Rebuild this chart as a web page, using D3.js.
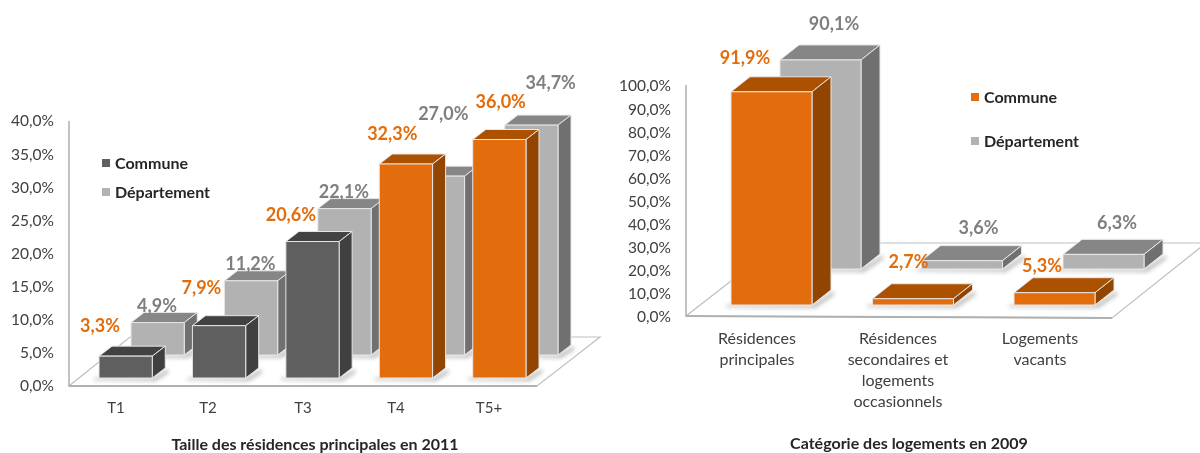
<!DOCTYPE html>
<html><head><meta charset="utf-8">
<script src="https://cdn.jsdelivr.net/npm/d3@7/dist/d3.min.js"></script>
<style>html,body{margin:0;padding:0;background:#fff}svg{display:block}text{font-family:Lato,"Open Sans",sans-serif}</style>
</head><body><svg id="c" width="1200" height="453"></svg>
<script>
const sizeCategories = ["T1","T2","T3","T4","T5+"];
const sizeCommune = [3.3,7.9,20.6,32.3,36.0];
const sizeDepartement = [4.9,11.2,22.1,27.0,34.7];
const sizeTicks = [0,5,10,15,20,25,30,35,40];
const sizeTitle = "Taille des résidences principales en 2011";
const typeCategories = [["Résidences","principales"],["Résidences","secondaires et","logements","occasionnels"],["Logements","vacants"]];
const typeCommune = [91.9,2.7,5.3];
const typeDepartement = [90.1,3.6,6.3];
const typeTicks = [0,10,20,30,40,50,60,70,80,90,100];
const typeTitle = "Catégorie des logements en 2009";
const seriesNames = ["Commune","Département"];

const pal = {
  dark:{f:"#5f5f5f",t:"#424242",s:"#404040"},
  grey:{f:"#b2b2b2",t:"#868686",s:"#707070"},
  orange:{f:"#e36c0a",t:"#ac5104",s:"#914504"}
};
const svg = d3.select("#c");
const defs = svg.append("defs");
defs.append("filter").attr("id","sh").attr("x","-30%").attr("y","-100%").attr("width","160%").attr("height","300%")
  .append("feGaussianBlur").attr("stdDeviation",2.2);
defs.append("filter").attr("id","soft").attr("x","-5%").attr("y","-5%").attr("width","110%").attr("height","110%")
  .append("feGaussianBlur").attr("stdDeviation",0.45);
const root = svg.append("g").attr("filter","url(#soft)");
const fmt = v => d3.format(".1f")(v).replace(".",",")+"%";

function bar(g,x,w,yTop,yBase,dx,dy,c){
  g.append("path").attr("d",`M${x-5},${yBase}L${x+w},${yBase}L${x+w+dx+3},${yBase+dy+1}L${x+w+dx+3},${yBase+dy+5}L${x+w+3},${yBase+3}L${x-5},${yBase+2}Z`)
    .attr("fill","#8a8a8a").attr("opacity",.6).attr("filter","url(#sh)");
  const add = (d,fill)=>g.append("path").attr("d",d).attr("fill",fill)
    .attr("stroke","#e6e6e6").attr("stroke-width",1).attr("stroke-linejoin","round");
  add(`M${x},${yTop}L${x+dx},${yTop+dy}L${x+w+dx},${yTop+dy}L${x+w},${yTop}Z`,c.t);
  add(`M${x+w},${yTop}L${x+w+dx},${yTop+dy}L${x+w+dx},${yBase+dy}L${x+w},${yBase}Z`,c.s);
  add(`M${x},${yTop}H${x+w}V${yBase}H${x}Z`,c.f);
}

function chart(o){
  const g = root.append("g");
  g.append("path").attr("d",d3.line()(o.floor)+"Z").attr("fill","#fff").attr("stroke","#bfbfbf").attr("stroke-width",1.2);
  g.append("line").attr("x1",o.axisX).attr("x2",o.axisX).attr("y1",o.axisTop).attr("y2",o.axisBottom).attr("stroke","#a8a8a8").attr("stroke-width",1.4);
  g.append("line").attr("x1",o.axisX).attr("x2",o.floor[1][0]).attr("y1",o.axisBottom).attr("y2",o.floor[1][1]).attr("stroke","#b0b0b0").attr("stroke-width",2);

  const tick = d3.scaleLinear().domain(o.domain).range([o.axisBottom,o.axisTop]);
  const ax = d3.axisLeft(tick).tickValues(o.ticks).tickSize(0).tickPadding(o.tickPad).tickFormat(fmt);
  const ag = g.append("g").attr("transform",`translate(${o.axisX},${o.tickShift})`).call(ax);
  ag.select(".domain").remove();
  ag.selectAll("text").attr("font-size",o.tickSize).attr("fill","#404040").style("font-family","Lato,sans-serif");

  const xF = d3.scaleBand().domain(d3.range(o.n)).range(o.frontX).paddingInner(o.pad);
  const xB = d3.scaleBand().domain(d3.range(o.n)).range(o.backX).paddingInner(o.pad);
  const yF = d3.scaleLinear().domain(o.domain).range([o.frontBase,o.frontBase-o.plotH]);
  const yB = d3.scaleLinear().domain(o.domain).range([o.backBase,o.backBase-o.plotH]);

  o.back.forEach((v,i)=>bar(g,xB(i),xB.bandwidth(),yB(v),o.backBase,o.depth[0],o.depth[1],pal.grey));
  o.front.forEach((v,i)=>bar(g,xF(i),xF.bandwidth(),yF(v),o.frontBase,o.depth[0],o.depth[1],pal[o.frontColor(i)]));

  const lab = (v,x,y,col)=>g.append("text").attr("x",x).attr("y",y).attr("text-anchor","middle").attr("dominant-baseline","central")
    .attr("font-size",o.labSize).attr("font-weight",700).attr("fill",col).text(fmt(v));
  o.back.forEach((v,i)=>lab(v,xB(i)+o.backNudge[i][0],yB(v)+o.backNudge[i][1],"#7f7f7f"));
  o.front.forEach((v,i)=>lab(v,xF(i)+o.frontNudge[i][0],yF(v)+o.frontNudge[i][1],"#e36c0a"));

  o.cats.forEach((lines,i)=>{
    lines.forEach((t,j)=>g.append("text").attr("x",o.catX[i]).attr("y",o.catY+j*o.catLead).attr("text-anchor","middle")
      .attr("dominant-baseline","central").attr("font-size",o.catSize).attr("fill","#404040").text(t));
  });
  g.append("text").attr("x",o.titleX).attr("y",o.titleY).attr("text-anchor","middle").attr("dominant-baseline","central")
    .attr("font-size",16).attr("font-weight",700).attr("fill","#262626").text(o.title);

  seriesNames.forEach((s,i)=>{
    g.append("rect").attr("x",o.legX).attr("y",o.legY[i]-4).attr("width",8).attr("height",8).attr("fill",i?pal.grey.f:o.legColor);
    g.append("text").attr("x",o.legX+13).attr("y",o.legY[i]-1).attr("dominant-baseline","central")
      .attr("font-size",16).attr("font-weight",700).attr("fill","#262626").text(s);
  });
}

chart({
  n:5,domain:[0,40],ticks:sizeTicks,front:sizeCommune,back:sizeDepartement,
  floor:[[69,386],[537,386],[600,337],[130,337]],
  axisX:69,axisTop:121,axisBottom:386,tickPad:15,tickShift:0,tickSize:15.5,
  frontX:[99,526],backX:[131,558],pad:0.43,
  frontBase:378,backBase:355,plotH:265,depth:[13,-10],
  frontColor:i=>i<3?"dark":"orange",
  frontNudge:[[1,-31],[9,-39],[5,-28],[13,-31],[28,-39]],
  backNudge:[[26,-18],[26,-18],[26,-18],[32,-63],[46,-43]],
  labSize:18,
  cats:sizeCategories.map(c=>[c]),catX:[116,208,303,396,489],catY:407,catLead:0,catSize:15,
  title:sizeTitle,titleX:315,titleY:443.5,
  legX:102,legY:[163,192],legColor:pal.dark.f
});
chart({
  n:3,domain:[0,100],ticks:typeTicks,front:typeCommune,back:typeDepartement,
  floor:[[686,316],[1112,318],[1206,243],[780,243]],
  axisX:686,axisTop:85,axisBottom:316,tickPad:15,tickShift:1,tickSize:15.5,
  frontX:[731,1095],backX:[780,1144],pad:0.4276,
  frontBase:305,backBase:269,plotH:232,depth:[19,-15],
  frontColor:()=>"orange",
  frontNudge:[[14,-35],[36,-38],[28,-28]],
  backNudge:[[54,-37],[57,-34],[54,-32]],
  labSize:18,
  cats:typeCategories,catX:[757,898,1040],catY:337,catLead:21,catSize:16,
  title:typeTitle,titleX:909,titleY:442.5,
  legX:971,legY:[97,141],legColor:pal.orange.f
});
</script></body></html>
